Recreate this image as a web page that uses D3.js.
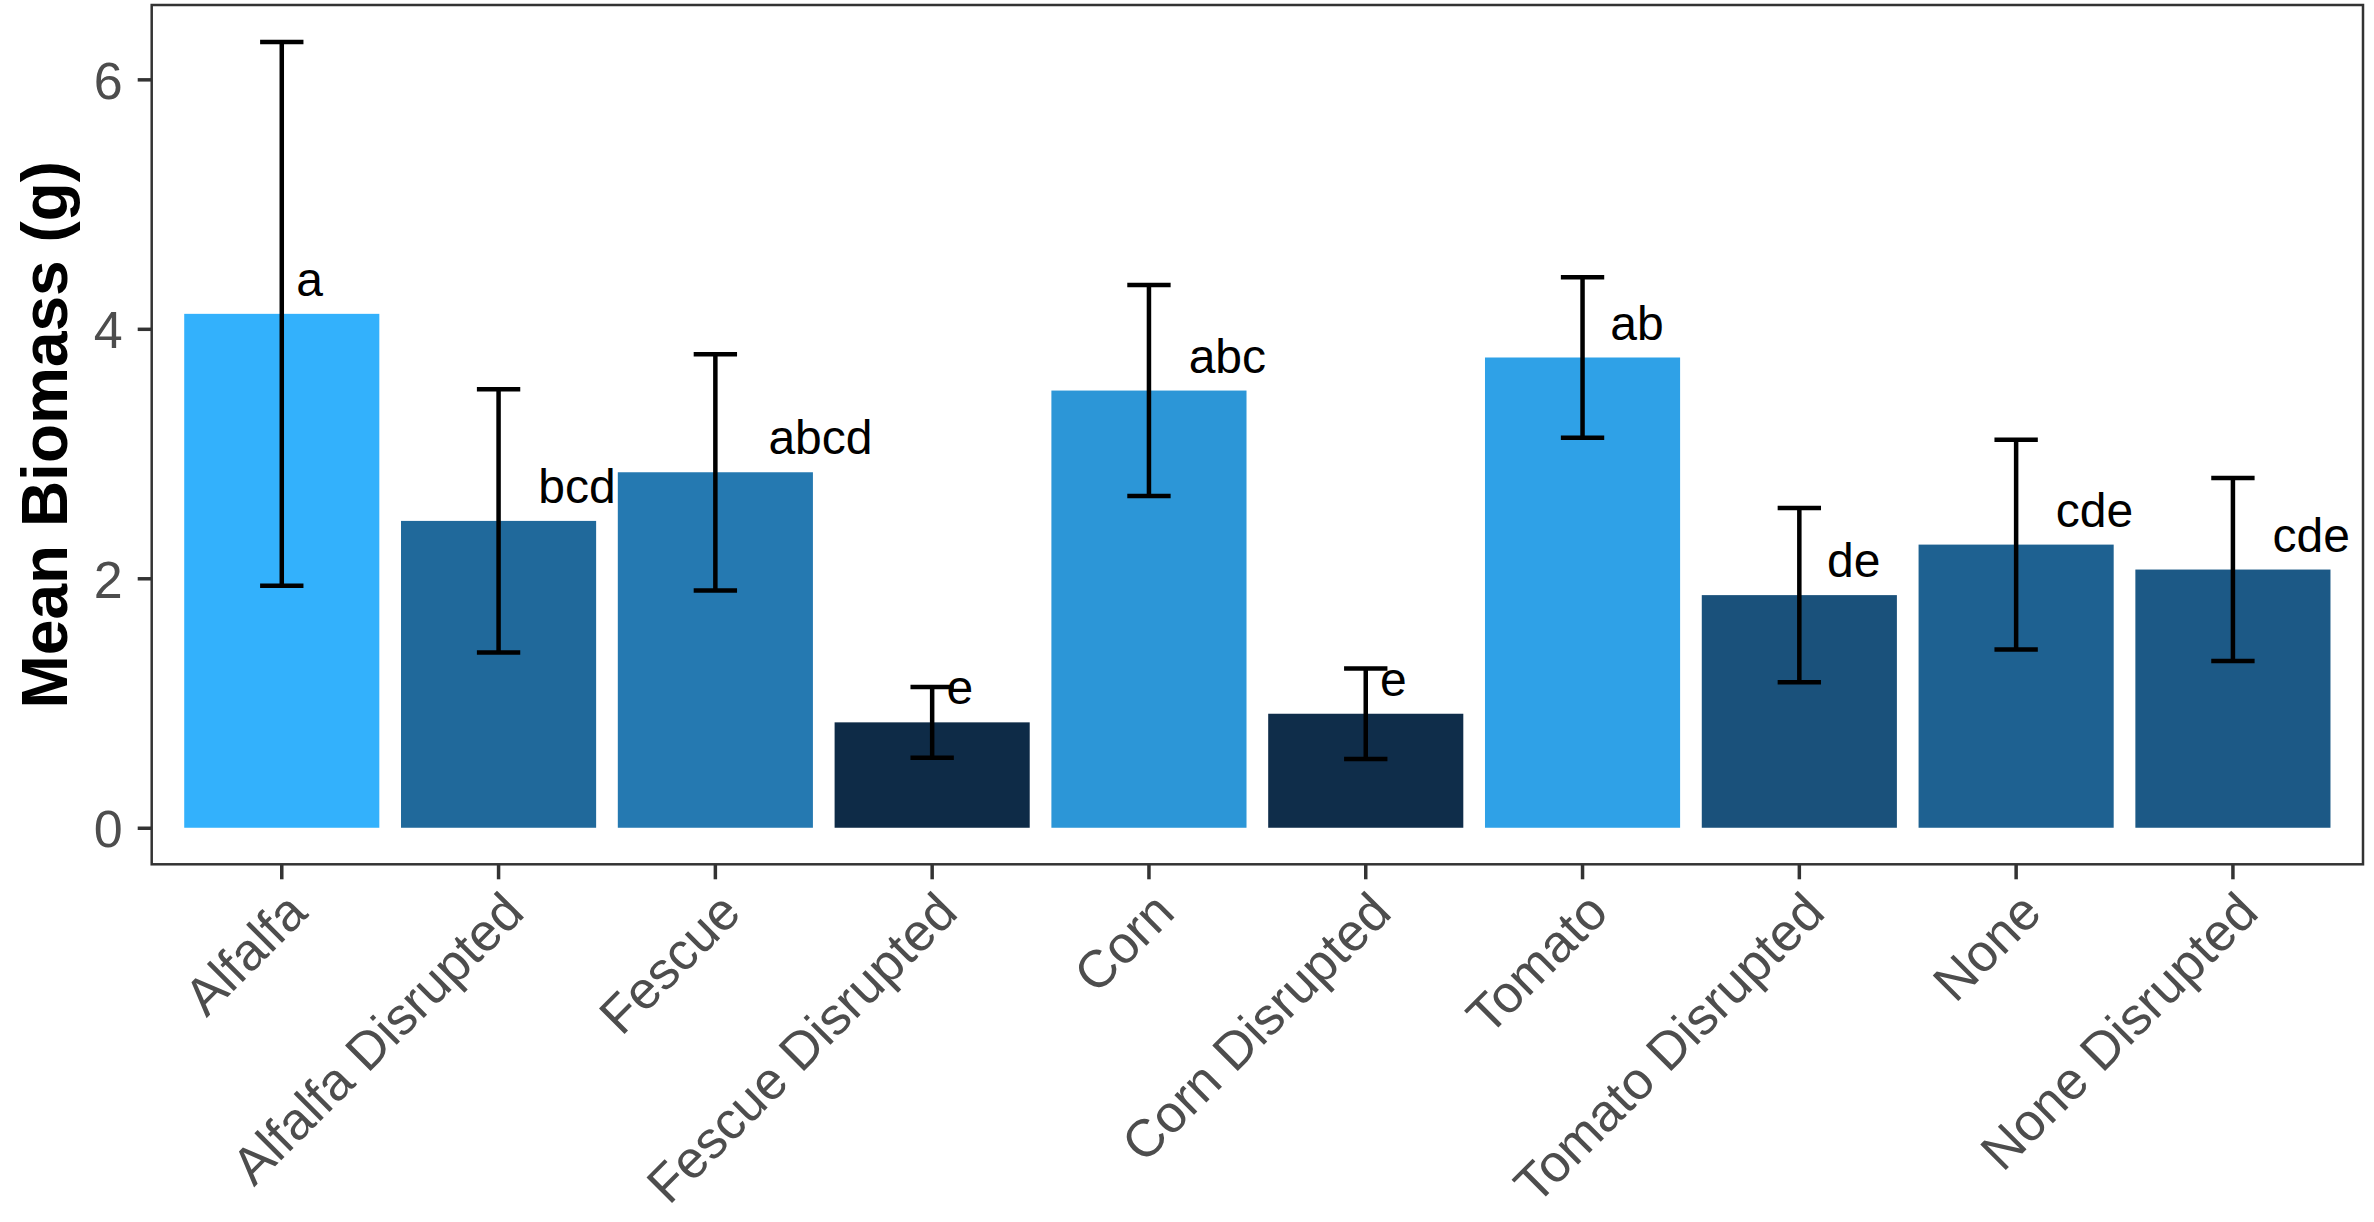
<!DOCTYPE html>
<html>
<head>
<meta charset="utf-8">
<script src="https://cdn.jsdelivr.net/npm/d3@7"></script>
<style>
  html, body { margin: 0; padding: 0; background: #ffffff; }
  svg { display: block; }
</style>
</head>
<body>
<svg id="chart" width="2374" height="1222"></svg>
<script>
// Treatments (bar order on the x axis)
const treatments = [
  "Alfalfa", "Alfalfa Disrupted", "Fescue", "Fescue Disrupted", "Corn",
  "Corn Disrupted", "Tomato", "Tomato Disrupted", "None", "None Disrupted"
];
// Mean biomass (g) per treatment
const meanBiomass = [4.12, 2.46, 2.85, 0.845, 3.505, 0.914, 3.77, 1.865, 2.27, 2.07];
// Half-width of the error bar per treatment
const errorHalf = [2.18, 1.055, 0.947, 0.284, 0.846, 0.363, 0.643, 0.699, 0.84, 0.733];
// Compact letter display from the post-hoc test
const groupLetters = ["a", "bcd", "abcd", "e", "abc", "e", "ab", "de", "cde", "cde"];
// Y axis ticks
const yTicks = [0, 2, 4, 6];

const svg = d3.select("#chart");

const panel = { left: 151.7, right: 2363, top: 5, bottom: 864.3 };

const x = d3.scaleBand()
  .domain(treatments)
  .range([panel.left, panel.right])
  .paddingInner(0.1)
  .paddingOuter(0.15);

const y = d3.scaleLinear()
  .domain([-0.293, 6.596])
  .range([panel.bottom, panel.top]);

const fill = d3.scaleLinear()
  .domain([d3.min(meanBiomass), d3.max(meanBiomass)])
  .range(["#0e2b47", "#33b1fc"])
  .interpolate(d3.interpolateLab);

const rows = treatments.map((t, i) => ({
  name: t, mean: meanBiomass[i], se: errorHalf[i], letter: groupLetters[i]
}));

const cx = d => x(d.name) + x.bandwidth() / 2;
const step = x.step();

// bars
svg.append("g").selectAll("rect")
  .data(rows).join("rect")
  .attr("x", d => x(d.name))
  .attr("width", x.bandwidth())
  .attr("y", d => y(d.mean))
  .attr("height", d => y(0) - y(d.mean))
  .attr("fill", d => fill(d.mean));

// error bars
const eb = svg.append("g")
  .attr("stroke", "#000")
  .attr("stroke-width", 4.5)
  .attr("fill", "none");
const capHalf = step * 0.1;
rows.forEach(d => {
  const c = cx(d), hi = y(d.mean + d.se), lo = y(d.mean - d.se);
  eb.append("line").attr("x1", c).attr("x2", c).attr("y1", hi).attr("y2", lo);
  eb.append("line").attr("x1", c - capHalf).attr("x2", c + capHalf).attr("y1", hi).attr("y2", hi);
  eb.append("line").attr("x1", c - capHalf).attr("x2", c + capHalf).attr("y1", lo).attr("y2", lo);
});

// group letters, placed to the right of each error bar
const labels = svg.append("g")
  .attr("font-family", "'Liberation Sans', Arial, sans-serif")
  .attr("font-size", 48)
  .attr("fill", "#000");
rows.forEach(d => {
  const t = labels.append("text")
    .attr("y", y(d.mean) - 18)
    .attr("text-anchor", "start")
    .text(d.letter);
  const w = t.node().getComputedTextLength();
  t.attr("x", cx(d) + 0.5 * w + 1);
});

// y axis
const yAxis = svg.append("g")
  .attr("transform", `translate(${panel.left},0)`)
  .call(d3.axisLeft(y).tickValues(yTicks).tickFormat(d3.format("d")).tickSize(14).tickPadding(15));
yAxis.select(".domain").remove();
yAxis.selectAll(".tick line").attr("stroke", "#333333").attr("stroke-width", 3.5);
yAxis.selectAll(".tick text")
  .attr("fill", "#4d4d4d")
  .attr("font-family", "'Liberation Sans', Arial, sans-serif")
  .attr("font-size", 52)
  .attr("dy", "0.36em");

// x axis
const xAxis = svg.append("g")
  .attr("transform", `translate(0,${panel.bottom})`)
  .call(d3.axisBottom(x).tickSize(15).tickPadding(0));
xAxis.select(".domain").remove();
xAxis.selectAll(".tick line").attr("stroke", "#333333").attr("stroke-width", 3.5);
xAxis.selectAll(".tick text")
  .attr("fill", "#4d4d4d")
  .attr("font-family", "'Liberation Sans', Arial, sans-serif")
  .attr("font-size", 52.5)
  .attr("text-anchor", "end")
  .attr("x", 0)
  .attr("y", 0)
  .attr("dy", "0.75em")
  .attr("transform", "translate(0,23) rotate(-45)");

// panel border
svg.append("rect")
  .attr("x", panel.left)
  .attr("y", panel.top)
  .attr("width", panel.right - panel.left)
  .attr("height", panel.bottom - panel.top)
  .attr("fill", "none")
  .attr("stroke", "#333333")
  .attr("stroke-width", 2.5);

// y axis title
svg.append("text")
  .attr("transform", `translate(67,${(panel.top + panel.bottom) / 2}) rotate(-90)`)
  .attr("text-anchor", "middle")
  .attr("font-family", "'Liberation Sans', Arial, sans-serif")
  .attr("font-weight", "bold")
  .attr("font-size", 64)
  .attr("fill", "#000")
  .text("Mean Biomass (g)");
</script>
</body>
</html>
